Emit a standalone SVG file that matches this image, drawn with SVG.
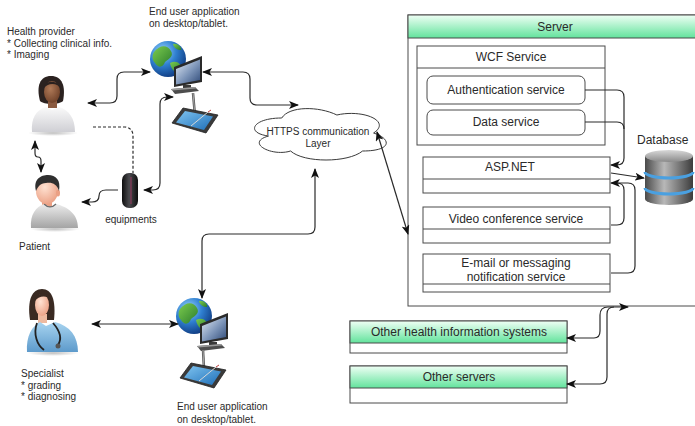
<svg xmlns="http://www.w3.org/2000/svg" width="695" height="426" viewBox="0 0 695 426">
  <style>
    text { font-family: "Liberation Sans", Arial, sans-serif; fill: #2a2a2a; }
    .lbl { font-size: 10px; }
    .box-t { font-size: 12px; text-anchor: middle; }
    .box { fill: #ffffff; stroke: #4a4a4a; stroke-width: 1; }
    .hdr { fill: url(#greenHdr); stroke: #4a4a4a; stroke-width: 1; }
    .div { stroke: #4a4a4a; stroke-width: 1; fill: none; }
    .wire { fill: none; stroke: #2b2b2b; stroke-width: 1.2; }
    .two { marker-start: url(#arr); marker-end: url(#arr); }
    .one { marker-end: url(#arr); }
    .dash { fill: none; stroke: #2b2b2b; stroke-width: 1.2; stroke-dasharray: 3 2; }
  </style>
  <defs>
    <marker id="arr" viewBox="0 0 10 8" refX="9" refY="4" markerWidth="10" markerHeight="8" markerUnits="userSpaceOnUse" orient="auto-start-reverse">
      <path d="M0,0 L10,4 L0,8 L2.5,4 Z" fill="#111"/>
    </marker>
    <linearGradient id="greenHdr" x1="0" y1="0" x2="0" y2="1">
      <stop offset="0" stop-color="#effff5"/>
      <stop offset="1" stop-color="#62e39c"/>
    </linearGradient>
    <radialGradient id="globeSea" cx="0.35" cy="0.3" r="0.75">
      <stop offset="0" stop-color="#9ad6ff"/>
      <stop offset="0.5" stop-color="#2f7fd0"/>
      <stop offset="1" stop-color="#0f3a80"/>
    </radialGradient>
    <linearGradient id="land" x1="0" y1="0" x2="1" y2="1">
      <stop offset="0" stop-color="#7ccc4e"/>
      <stop offset="1" stop-color="#2b7d2c"/>
    </linearGradient>
    <linearGradient id="screen" x1="0" y1="0" x2="1" y2="1">
      <stop offset="0" stop-color="#e4ecf6"/>
      <stop offset="0.55" stop-color="#7c94b8"/>
      <stop offset="1" stop-color="#2f4a78"/>
    </linearGradient>
    <linearGradient id="tabScreen" x1="0" y1="0" x2="1" y2="1">
      <stop offset="0" stop-color="#7fc4f0"/>
      <stop offset="1" stop-color="#1f6fb8"/>
    </linearGradient>
    <linearGradient id="whiteShirt" x1="0" y1="0" x2="0" y2="1">
      <stop offset="0" stop-color="#fafafa"/>
      <stop offset="1" stop-color="#cfcfd4"/>
    </linearGradient>
    <linearGradient id="greyShirt" x1="0" y1="0" x2="0" y2="1">
      <stop offset="0" stop-color="#ececec"/>
      <stop offset="1" stop-color="#a4a4a4"/>
    </linearGradient>
    <linearGradient id="scrubs" x1="0" y1="0" x2="0" y2="1">
      <stop offset="0" stop-color="#a8d4f0"/>
      <stop offset="1" stop-color="#5d9acb"/>
    </linearGradient>
    <radialGradient id="skinDark" cx="0.4" cy="0.35" r="0.7">
      <stop offset="0" stop-color="#b07a58"/>
      <stop offset="1" stop-color="#6e4028"/>
    </radialGradient>
    <radialGradient id="skinLight" cx="0.4" cy="0.35" r="0.7">
      <stop offset="0" stop-color="#ffe2d2"/>
      <stop offset="1" stop-color="#eba084"/>
    </radialGradient>
    <radialGradient id="shadow" cx="0.5" cy="0.5" r="0.5">
      <stop offset="0" stop-color="#000" stop-opacity="0.25"/>
      <stop offset="1" stop-color="#000" stop-opacity="0"/>
    </radialGradient>
    <linearGradient id="cylDark" x1="0" y1="0" x2="1" y2="0">
      <stop offset="0" stop-color="#0e0e0e"/>
      <stop offset="0.45" stop-color="#4a4a4e"/>
      <stop offset="1" stop-color="#0e0e0e"/>
    </linearGradient>
    <linearGradient id="dbBody" x1="0" y1="0" x2="1" y2="0">
      <stop offset="0" stop-color="#4a4a4a"/>
      <stop offset="0.4" stop-color="#b8b8b8"/>
      <stop offset="1" stop-color="#3c3c3c"/>
    </linearGradient>
    <linearGradient id="dbTop" x1="0" y1="0" x2="0" y2="1">
      <stop offset="0" stop-color="#d8d8d8"/>
      <stop offset="1" stop-color="#8a8a8a"/>
    </linearGradient>

    <!-- globe with monitor, drawn around the globe centre -->
    <g id="globeMon">
      <circle r="18" fill="url(#globeSea)"/>
      <path d="M-14,-7 C-8,-15 0,-14 3,-8 C6,-3 1,0 -3,3 C-5,8 -9,10 -13,4 C-16,1 -16,-4 -14,-7 Z" fill="url(#land)"/>
      <path d="M2,4 C8,1 14,4 13,11 C9,15 4,13 2,4 Z" fill="url(#land)"/>
      <path d="M5,-15 C9,-16 14,-12 13,-9 C9,-9 6,-11 5,-15 Z" fill="url(#land)"/>
      <polygon points="6,8 34,-3 34,23 6,28" fill="#2a2a2a"/>
      <polygon points="8,10 32,0.5 32,21 8,25.5" fill="url(#screen)"/>
      <rect x="15" y="26" width="8" height="4" fill="#3a3a3a"/>
      <polygon points="3,30 27,28 31,32 7,35" fill="#4d4d4d"/>
      <polygon points="3,30 27,28 28,29.5 4,31.5" fill="#9a9a9a"/>
    </g>
    <!-- drawing tablet with stylus, drawn around its centre -->
    <g id="tablet">
      <polygon points="-12,-12 23,-5 11,13 -23,3" fill="#3a3a3a" stroke="#222" stroke-width="0.8" stroke-linejoin="round"/>
      <polygon points="-10,-9 18,-3.5 9,10 -19,2.5" fill="url(#tabScreen)"/>
      <line x1="13" y1="-8" x2="-4" y2="6" stroke="#d8d8d8" stroke-width="1"/>
      <line x1="13" y1="-8" x2="16" y2="-10" stroke="#c04040" stroke-width="1"/>
    </g>
  </defs>

  <!-- health provider -->
  <g id="health-provider">
    <ellipse cx="53" cy="133" rx="25" ry="3" fill="url(#shadow)"/>
    <path d="M40,101 C36,86 40,76 51,76 C62,76 66,86 63,101 C59,105 44,105 40,101 Z" fill="#2b2220"/>
    <rect x="48" y="100" width="9" height="8" fill="#8a5a40"/>
    <path d="M32,132 C31,118 36,110 46,107 L52,110 L59,107 C69,110 75,118 75,132 Z" fill="url(#whiteShirt)"/>
    <ellipse cx="52" cy="92" rx="8" ry="11" fill="url(#skinDark)"/>
    <path d="M43,89 C43,80 59,79 61,89 C58,83 48,82 43,89 Z" fill="#2b2220"/>
    <text class="lbl" x="7" y="35">Health provider</text>
    <text class="lbl" x="7" y="47">* Collecting clinical info.</text>
    <text class="lbl" x="7" y="58">* Imaging</text>
  </g>

  <!-- patient -->
  <g id="patient">
    <ellipse cx="55" cy="229" rx="25" ry="3" fill="url(#shadow)"/>
    <rect x="42" y="199" width="10" height="8" fill="#eba084"/>
    <path d="M31,228 C30,214 36,207 44,204 L50,207 L56,204 C68,207 78,214 78,228 Z" fill="url(#greyShirt)"/>
    <path d="M44,204 Q50,210 56,204" fill="none" stroke="#6a6a6a" stroke-width="1.2"/>
    <ellipse cx="47" cy="191" rx="11" ry="13" fill="url(#skinLight)"/>
    <ellipse cx="58" cy="193" rx="2" ry="3.5" fill="#eba084"/>
    <path d="M36,191 C33,179 41,175 48,175 C56,175 61,180 59,191 C57,184 52,182 46,183 C40,183 38,187 36,191 Z" fill="#2f2f2f"/>
    <text class="lbl" x="19" y="250">Patient</text>
  </g>

  <!-- medical equipment -->
  <g id="equipments">
    <rect x="122" y="173" width="16" height="35" rx="7" fill="url(#cylDark)"/>
    <line x1="131" y1="177" x2="131" y2="204" stroke="#8a3a5a" stroke-width="1.2"/>
    <text class="lbl" x="131" y="223" text-anchor="middle">equipments</text>
  </g>

  <!-- user workstation (health provider side) -->
  <g id="workstation-top">
    <text class="lbl" x="149" y="15">End user application</text>
    <text class="lbl" x="149" y="27">on desktop/tablet.</text>
    <use href="#globeMon" x="168" y="59"/>
    <line x1="193" y1="93" x2="195" y2="116" stroke="#555" stroke-width="2.5"/>
    <line x1="193" y1="93" x2="195" y2="116" stroke="#bbb" stroke-width="0.8"/>
    <use href="#tablet" x="195" y="120"/>
  </g>

  <!-- communication layer -->
  <g id="https-layer">
    <path d="M281.75,118 C252.35,118 245,133 268.5,136 C245,142.6 271.5,157 290.6,151 C303.8,163 347.9,163 362.6,151 C392,151 392,139 373.6,133 C392,121 362.6,109 336.9,115 C318.5,106 289.1,106 281.75,118 Z" fill="#ffffff" stroke="#3a3a3a" stroke-width="1"/>
    <text class="lbl" x="318" y="135" text-anchor="middle">HTTPS communication</text>
    <text class="lbl" x="318" y="147" text-anchor="middle">Layer</text>
  </g>

  <!-- specialist -->
  <g id="specialist">
    <ellipse cx="53" cy="353" rx="26" ry="3" fill="url(#shadow)"/>
    <path d="M30,320 C27,300 32,289 42,289 C52,289 56,300 54,320 Z" fill="#3a2a22"/>
    <rect x="38" y="314" width="9" height="9" fill="#eebaa0"/>
    <path d="M27,352 C26,336 32,326 40,322 L46,326 L55,322 C70,326 78,336 78,352 Z" fill="url(#scrubs)"/>
    <ellipse cx="42" cy="305" rx="7" ry="11" fill="url(#skinLight)"/>
    <path d="M34,302 C34,292 50,290 51,300 C47,295 39,295 34,302 Z" fill="#3a2a22"/>
    <path d="M37,323 C33,334 37,345 44,350" fill="none" stroke="#222" stroke-width="1.8"/>
    <path d="M53,323 C60,331 62,339 58,345" fill="none" stroke="#222" stroke-width="1.8"/>
    <circle cx="58" cy="346" r="2.5" fill="#555"/>
    <text class="lbl" x="21" y="377">Specialist</text>
    <text class="lbl" x="21" y="389">* grading</text>
    <text class="lbl" x="21" y="400">* diagnosing</text>
  </g>

  <!-- user workstation (specialist side) -->
  <g id="workstation-bottom">
    <use href="#globeMon" x="194" y="316"/>
    <line x1="203" y1="350" x2="204" y2="369" stroke="#555" stroke-width="2.5"/>
    <line x1="203" y1="350" x2="204" y2="369" stroke="#bbb" stroke-width="0.8"/>
    <use href="#tablet" x="203" y="375"/>
    <text class="lbl" x="177" y="410">End user application</text>
    <text class="lbl" x="177" y="423">on desktop/tablet.</text>
  </g>

  <!-- server -->
  <g id="server">
    <rect class="box" x="408" y="15" width="300" height="291"/>
    <rect class="hdr" x="408" y="15" width="300" height="23"/>
    <text class="box-t" x="555" y="31">Server</text>
  </g>

  <g id="wcf-service">
    <rect class="box" x="417" y="46" width="188" height="99"/>
    <line class="div" x1="417" y1="68" x2="605" y2="68"/>
    <text class="box-t" x="511" y="61">WCF Service</text>
  </g>
  <g id="authentication-service">
    <rect class="box" x="427" y="76" width="158" height="28" rx="6"/>
    <text class="box-t" x="506" y="94">Authentication service</text>
  </g>
  <g id="data-service">
    <rect class="box" x="427" y="110" width="158" height="25" rx="6"/>
    <text class="box-t" x="506" y="126">Data service</text>
  </g>

  <g id="asp-net">
    <rect class="box" x="423" y="157" width="187" height="36"/>
    <line class="div" x1="423" y1="179" x2="610" y2="179"/>
    <text class="box-t" x="510" y="171">ASP.NET</text>
  </g>
  <g id="video-conference">
    <rect class="box" x="423" y="207" width="187" height="36"/>
    <line class="div" x1="423" y1="229" x2="610" y2="229"/>
    <text class="box-t" x="516" y="223">Video conference service</text>
  </g>
  <g id="notification-service">
    <rect class="box" x="423" y="254" width="187" height="38"/>
    <line class="div" x1="423" y1="284" x2="610" y2="284"/>
    <text class="box-t" x="516" y="267">E-mail or messaging</text>
    <text class="box-t" x="516" y="281">notification service</text>
  </g>

  <g id="database">
    <text x="637" y="144" style="font-size:12px">Database</text>
    <path d="M645,156 L645,199 A24,6 0 0 0 693,199 L693,156 Z" fill="url(#dbBody)"/>
    <ellipse cx="669" cy="156" rx="24" ry="6" fill="url(#dbTop)"/>
    <path d="M645,172 A24,6 0 0 0 693,172" fill="none" stroke="#4aa0e0" stroke-width="3"/>
    <path d="M645,188 A24,6 0 0 0 693,188" fill="none" stroke="#4aa0e0" stroke-width="3"/>
  </g>

  <g id="other-health-systems">
    <rect class="box" x="350" y="321" width="217" height="32"/>
    <rect class="hdr" x="350" y="321" width="217" height="22"/>
    <text class="box-t" x="459" y="336">Other health information systems</text>
  </g>
  <g id="other-servers">
    <rect class="box" x="350" y="366" width="217" height="37"/>
    <rect class="hdr" x="350" y="366" width="217" height="22"/>
    <text class="box-t" x="459" y="381">Other servers</text>
  </g>

  <!-- connectors, drawn over the boxes -->
  <g id="connectors">
    <path class="wire two" d="M35,141 L35,153 Q35,157 38,157 Q41,157 41,161 L41,172"/>
    <path class="wire two" d="M88,103 L110,103 Q117,103 117,96 L117,79 Q117,72 124,72 L150,72"/>
    <path class="dash" d="M93,127 L125,127 Q133,128 133,136 L133,173"/>
    <path class="wire two" d="M173,97 L167,97 Q160,97 160,104 L160,183 Q160,190 153,190 L144,190"/>
    <path class="wire one" d="M118,190 L106,190 Q99,190 99,196 Q99,202 92,202 L82,202"/>
    <path class="wire two" d="M203,72 L243,72 Q250,72 250,79 L250,98 Q250,105 257,105 L298,105"/>
    <path class="wire two" d="M315,169 L315,227 Q315,234 308,234 L209,234 Q202,234 202,241 L202,298"/>
    <path class="wire two" d="M377,132 L408,234"/>
    <path class="wire two" d="M92,324 L178,324"/>
    <!-- WCF services into ASP.NET -->
    <path class="wire one" d="M585,90 L617,90 Q624,90 624,97 L624,158 Q624,165 617,165 L611,165"/>
    <path class="wire" d="M585,122 L617,122 Q624,122 624,129"/>
    <path class="wire one" d="M611,173 L644,178"/>
    <path class="wire one" d="M611,225 L617,225 Q624,225 624,218 L624,190 Q624,183 617,183 L611,183"/>
    <path class="wire" d="M611,273 L628,273 Q635,273 635,266 L635,190 Q635,183 628,183 L617,183"/>
    <!-- external systems up to the server -->
    <path class="wire two" d="M567,338 L594,338 Q600,338 600,331 L600,315 Q600,307 608,307 L628,307"/>
    <path class="wire" marker-start="url(#arr)" d="M567,384 L600,384 Q607,384 607,377 L607,314 Q607,307 614,307"/>
  </g>
</svg>
